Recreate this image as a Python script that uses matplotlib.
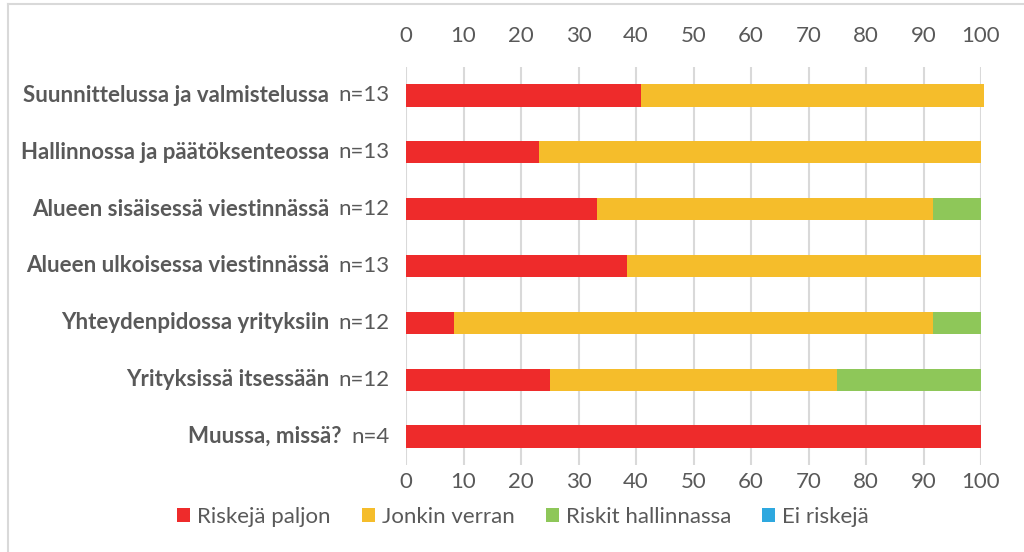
import matplotlib
matplotlib.use('Agg')
import matplotlib.pyplot as plt
from matplotlib.lines import Line2D
from matplotlib.patches import Patch
import numpy as np

plt.rcParams['font.family'] = ['Lato', 'DejaVu Sans']

categories = ['Suunnittelussa ja valmistelussa', 'Hallinnossa ja päätöksenteossa',
              'Alueen sisäisessä viestinnässä', 'Alueen ulkoisessa viestinnässä',
              'Yhteydenpidossa yrityksiin', 'Yrityksissä itsessään', 'Muussa, missä?']
n_labels = ['n=13', 'n=13', 'n=12', 'n=13', 'n=12', 'n=12', 'n=4']

riskeja_paljon = [40.9, 23.1, 33.3, 38.5, 8.3, 25.0, 100.0]
jonkin_verran = [59.6, 76.9, 58.4, 61.5, 83.4, 50.0, 0.0]
riskit_hallinnassa = [0.0, 0.0, 8.3, 0.0, 8.3, 25.0, 0.0]
ei_riskeja = [0.0, 0.0, 0.0, 0.0, 0.0, 0.0, 0.0]

series = ['Riskejä paljon', 'Jonkin verran', 'Riskit hallinnassa', 'Ei riskejä']
colors = ['#ee2b2b', '#f5bd2b', '#8ec759', '#2ea8df']
text_color = '#595959'

fig = plt.figure(figsize=(10.24, 5.52), dpi=100)
ax = fig.add_axes([406 / 1024, 1 - 465 / 552, 575 / 1024, 398 / 552])

y = np.arange(len(categories))
left = np.zeros(len(categories))
for vals, col in zip([riskeja_paljon, jonkin_verran, riskit_hallinnassa, ei_riskeja], colors):
    ax.barh(y, vals, left=left, height=0.39, color=col, zorder=3, clip_on=False)
    left += np.array(vals)

ax.set_xlim(0, 100)
ax.set_ylim(len(categories) - 0.5, -0.5)
ax.set_xticks(range(0, 101, 10))
ax.tick_params(axis='x', length=0, labelsize=16, labelcolor=text_color, pad=5)
ax.set_yticks([])
ax.grid(axis='x', color='#d9d9d9', linewidth=1.5, zorder=0)
for s in ax.spines.values():
    s.set_visible(False)

top = ax.secondary_xaxis('top')
top.set_xticks(range(0, 101, 10))
top.tick_params(length=0, labelsize=16, labelcolor=text_color, pad=15)
for s in top.spines.values():
    s.set_visible(False)

# category labels: bold name + regular n
for i in range(len(categories)):
    nt = ax.text(-2.8, i, n_labels[i], ha='right', va='center', fontsize=16,
                 color=text_color)
    ax.annotate(categories[i], xy=(0, 0.5), xycoords=nt, xytext=(-7, 0),
                textcoords='offset points', ha='right', va='center',
                fontsize=16, fontweight='bold', color=text_color)

handles = [Patch(facecolor=c, edgecolor='none') for c in colors]
fig.legend(handles, series, loc='center', bbox_to_anchor=(523 / 1024, 1 - 517 / 552),
           ncol=4, frameon=False, fontsize=16, labelcolor=text_color,
           handlelength=0.6, handleheight=0.6, handletextpad=0.3, columnspacing=1.4)

# chart border (left and top)
fig.add_artist(Line2D([8 / 1024, 8 / 1024], [0, 1 - 4 / 552], color='#d9d9d9', lw=1.5,
                      transform=fig.transFigure))
fig.add_artist(Line2D([8 / 1024, 1], [1 - 4 / 552, 1 - 4 / 552], color='#d9d9d9', lw=1.5,
                      transform=fig.transFigure))

fig.savefig('out.png', dpi=100)
